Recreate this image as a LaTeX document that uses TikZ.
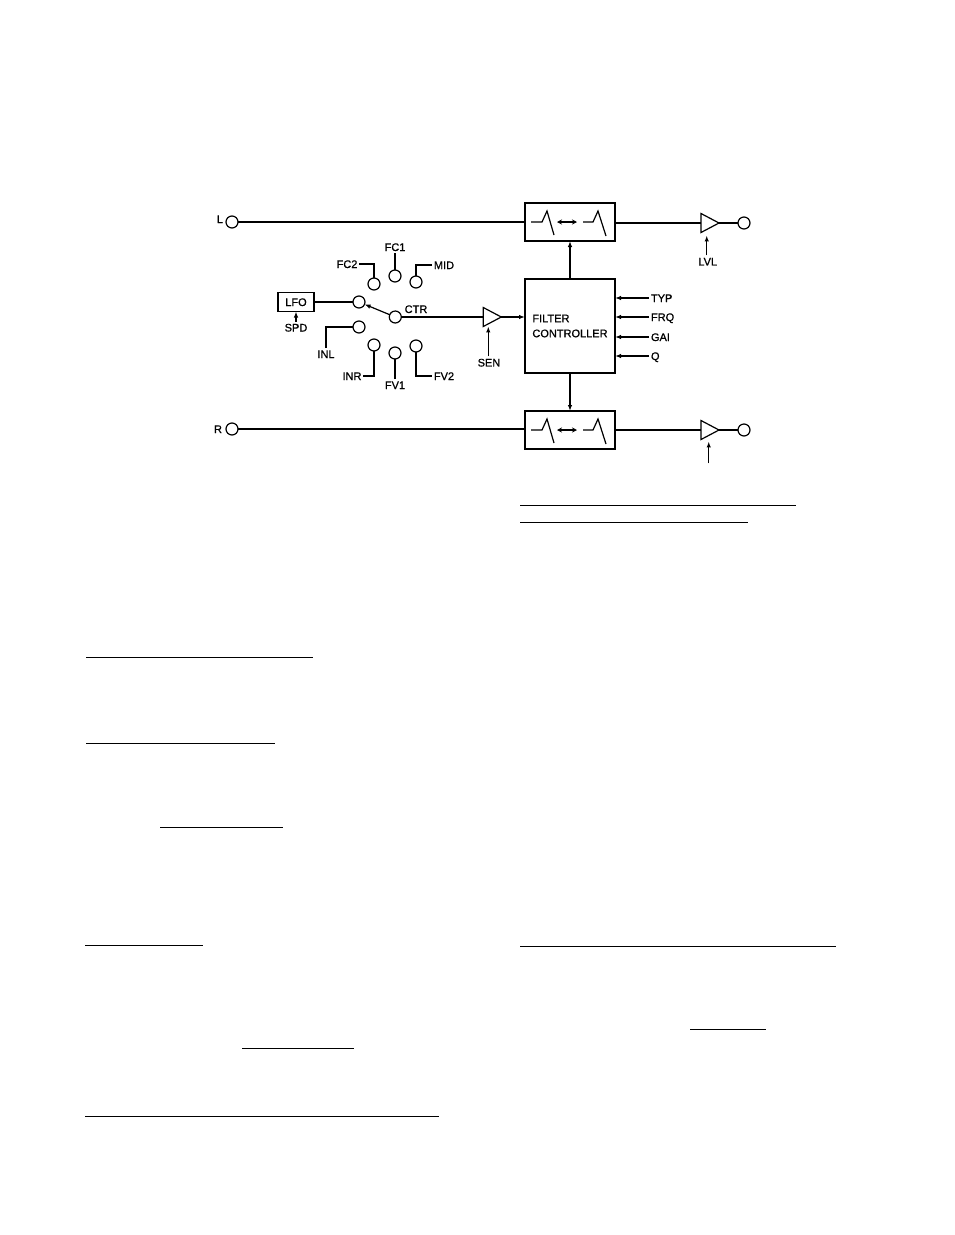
\documentclass[tikz,border=0pt]{standalone}
\usepackage{fontspec}
\setmainfont{Liberation Sans}[FakeBold=0.8]
\usetikzlibrary{shapes,arrows,arrows.meta,positioning,calc}

\begin{document}
\begin{tikzpicture}[
    x=1pt, y=-1pt,
    line width=1.2pt,
    >={Latex[length=6pt,width=4.5pt]},
    outer sep=0pt,
    txt/.style={font=\fontsize{11}{15}\selectfont, inner sep=2pt, text height=8pt, text depth=0pt},
    port/.style={draw, circle, minimum size=12pt, inner sep=0pt},
    filterbox/.style={draw, rectangle, minimum width=90pt, minimum height=38pt},
    amp/.style={draw, isosceles triangle, isosceles triangle stretches, minimum width=19pt, minimum height=18pt, inner sep=0pt}
]
    \useasboundingbox (0,0) rectangle (954,1235);

    % top channel
    \node[port] (inL) at (232,222) {};
    \node[filterbox, right=287pt of inL] (filtL) {};
    \node[amp, right=86pt of filtL, yshift=-1pt] (ampL) {};
    \node[port, right=19pt of ampL.east] (outL) {};
    \node[txt, left=1pt of inL, yshift=3pt] (lblL) {L};

    % controller and bottom channel
    \node[draw, rectangle, minimum width=90pt, minimum height=94pt, align=left, below=38pt of filtL,
          font=\fontsize{11}{15}\selectfont] (ctl) {FILTER\\CONTROLLER};
    \node[filterbox, below=38pt of ctl] (filtR) {};
    \node[port, left=287pt of filtR, yshift=1pt] (inR) {};
    \node[amp, right=86pt of filtR] (ampR) {};
    \node[port, right=19pt of ampR.east] (outR) {};
    \node[txt, left=2pt of inR] (lblR) {R};

    % modulation source selector
    \node[amp] (ampSen) at (489,317) {};
    \node[port, left=82pt of ampSen.west] (swctr) {};
    \node[port] (swlfo) at (359,302) {};
    \node[port] (swinl) at (359,327) {};
    \node[port] (swfctwo) at (374,284) {};
    \node[port] (swfcone) at (395,276) {};
    \node[port] (swmid) at (416,282) {};
    \node[port] (swinr) at (374,345) {};
    \node[port] (swfvone) at (395,353) {};
    \node[port] (swfvtwo) at (416,346) {};
    \node[draw, rectangle, minimum width=36pt, minimum height=19pt, txt, left=39pt of swlfo, inner sep=0pt] (lfo) {LFO};

    \node[txt, above=17pt of swfcone] (lblFCone) {FC1};
    \node[txt] (lblFCtwo) at (347,264) {FC2};
    \node[txt] (lblMID) at (444,265) {MID};
    \node[txt] (lblINL) at (326,354) {INL};
    \node[txt] (lblINR) at (352,376) {INR};
    \node[txt, below=20pt of swfvone] (lblFVone) {FV1};
    \node[txt] (lblFVtwo) at (444,376) {FV2};
    \node[txt] (lblCTR) at (416,309) {CTR};
    \node[txt, below=10pt of lfo] (lblSPD) {SPD};
    \node[txt, below=33pt of ampSen] (lblSEN) {SEN};
    \node[txt, below=26pt of ampL, xshift=1pt] (lblLVL) {LVL};
    \coordinate[below=27pt of ampR] (lvlR);

    % parameter inputs
    \node[txt, anchor=west, right=34pt of ctl.north east, yshift=-19pt] (typ) {TYP};
    \node[txt, anchor=west, right=34pt of ctl.north east, yshift=-38pt] (frq) {FRQ};
    \node[txt, anchor=west, right=34pt of ctl.north east, yshift=-58pt] (gai) {GAI};
    \node[txt, anchor=west, right=34pt of ctl.north east, yshift=-77pt] (q) {Q};

    % signal path
    \draw (inL) -- (filtL);
    \draw (filtL) -- (ampL.west -| filtL.east) -- (ampL.west);
    \draw (ampL) -- (outL);
    \draw (inR) -- (inR -| filtR.west);
    \draw (filtR) -- (ampR);
    \draw (ampR) -- (outR);
    \draw[->] (ctl) -- (filtL);
    \draw[->] (ctl) -- (filtR);

    % selector wiring
    \draw (lfo) -- (swlfo);
    \draw[->] (swctr) -- (swlfo);
    \draw (swctr) -- (ampSen);
    \draw[->] (ampSen.east) -- (ampSen.east -| ctl.west);
    \draw (lblFCone) -- (swfcone);
    \draw (lblFCtwo) -| (swfctwo);
    \draw (lblMID) -| (swmid);
    \draw (lblINL.north) |- (swinl);
    \draw (lblINR) -| (swinr);
    \draw (lblFVone) -- (swfvone);
    \draw (lblFVtwo) -| (swfvtwo);
    \draw[->] (lblSPD) -- (lfo);
    \draw[->] (lblSEN.north -| ampSen.west) ++(5,0) -- ++(0,-30);
    \draw[->] (lblLVL.north) ++(-1,0) -- ++(0,-20);
    \draw[->] (lvlR) ++(2,0) -- ++(0,-22);

    \foreach \lbl in {typ,frq,gai,q}
        \draw[->] (\lbl.west) -- (\lbl.west -| ctl.east);

    % filter curves
    \foreach \f in {filtL,filtR} {
        \draw ([xshift=6pt]\f.west) -- ++(11,0) -- ++(5,-11) -- ++(7,24);
        \draw[{Stealth[length=5pt,width=5pt]}-{Stealth[length=5pt,width=5pt]}] ([xshift=32pt]\f.west) -- ++(20,0);
        \draw ([xshift=58pt]\f.west) -- ++(10,0) -- ++(5,-11) -- ++(8,25);
    }

    % ruled text lines
    \foreach \xa/\xb/\ya in {520/796/505, 520/748/522, 86/313/657, 86/275/743, 160/283/827,
                             85/203/945, 520/836/946, 690/766/1029, 242/354/1048, 85/439/1116}
        \draw[line width=1pt] (\xa,\ya) -- (\xb,\ya);
\end{tikzpicture}
\end{document}
